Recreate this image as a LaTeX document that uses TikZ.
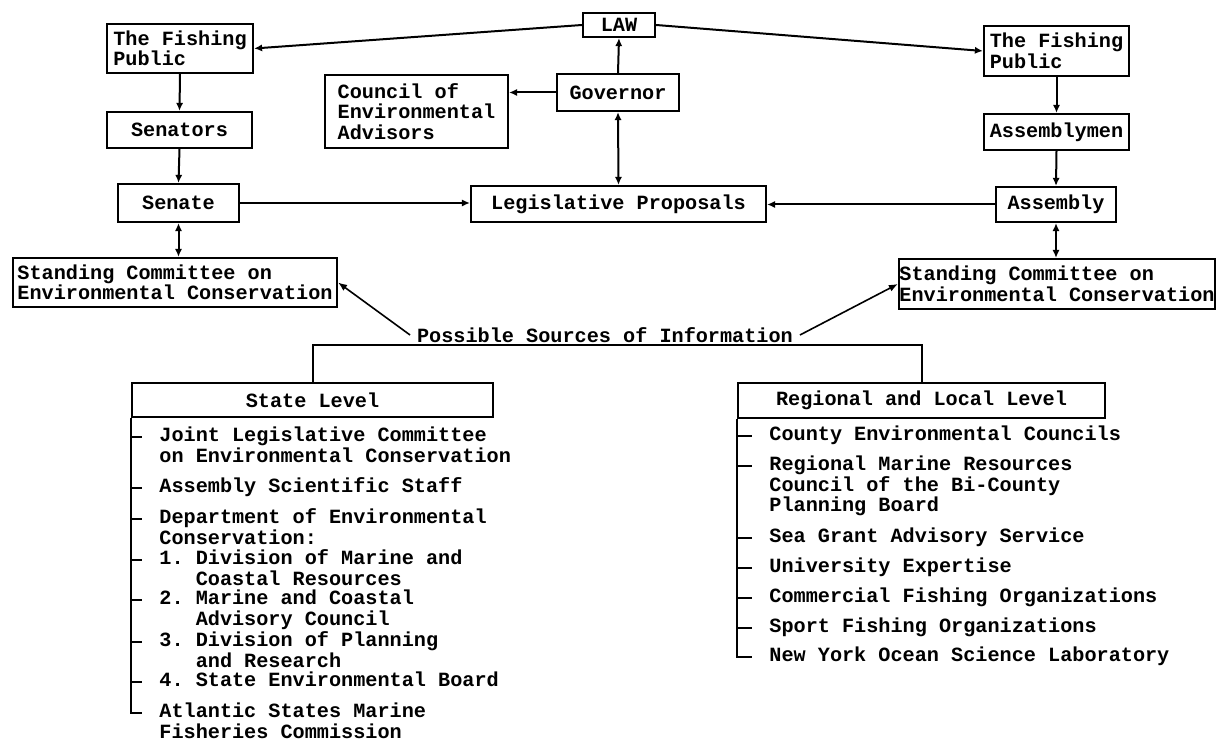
\documentclass[tikz,border=0pt]{standalone}
\usepackage{fontspec}
\setmonofont{Liberation Mono}[WordSpace={1,0,0}]
\usepackage{tikz}
\usetikzlibrary{positioning,arrows.meta,calc}

\begin{document}
\begin{tikzpicture}[x=0.5pt, y=-0.5pt,
  font=\ttfamily\bfseries\fontsize{10.1pt}{10.25pt}\selectfont,
  box/.style={draw, line width=1.1pt, inner sep=0pt, align=left},
  item/.style={anchor=base west, align=left, inner sep=0pt},
  link/.style={line width=1pt, -{Latex[length=4pt,width=3.6pt]}},
  twoway/.style={line width=1pt, {Latex[length=4pt,width=3.6pt]}-{Latex[length=4pt,width=3.6pt]}},
  srclink/.style={line width=0.8pt, -{Latex[length=4.5pt,width=3.6pt]}}]
\useasboundingbox (0,0) rectangle (1217,742);
% top row
\node[box, minimum width=36pt, minimum height=12pt] (law) at (619,25) {LAW};
\node[box, minimum width=73pt, minimum height=24.5pt] (fishL) at (180,48.5) {The Fishing\\Public};
\node[box, minimum width=72.5pt, minimum height=25pt] (fishR) at (1056.5,51) {The Fishing\\Public};
\node[box, minimum width=91.5pt, minimum height=36.5pt] (council) at (416.5,111.5) {Council of\\Environmental\\Advisors};
\node[box, minimum width=61pt, minimum height=18.5pt] (governor) at (618,92.5) {Governor};
\node[box, minimum width=72.5pt, minimum height=18pt] (senators) at (179.5,130) {Senators};
\node[box, minimum width=72.5pt, minimum height=18pt] (assemblymen) at (1056.5,132) {Assemblymen};
% legislature
\node[box, minimum width=60.5pt, minimum height=19pt] (senate) at (178.5,203) {Senate};
\node[box, minimum width=147.5pt, minimum height=18pt] (proposals) at (618.5,204) {Legislative Proposals};
\node[box, minimum width=60pt, minimum height=17.5pt] (assembly) at (1056,204.5) {Assembly};
\node[box, minimum width=162pt, minimum height=24.5pt] (comL) at (175,282.5) {Standing Committee on\\Environmental Conservation};
\node[box, minimum width=158pt, minimum height=25pt] (comR) at (1057,284) {Standing Committee on\\Environmental Conservation};
% sources
\node (sources) at (605,335) {Possible Sources of Information};
\node[box, minimum width=180.5pt, minimum height=17pt] (state) at (312.5,400) {State Level};
\node[box, minimum width=183.5pt, minimum height=17.5pt] (regional) at (921.5,400.5) {Regional and Local Level};

% connectors
\draw[link] (law.west) -- (fishL.east);
\draw[link] (law.east) -- (fishR.west);
\draw[link] (governor.north) -- (law.south);
\draw[link] (governor.west) -- (governor.west -| council.east);
\draw[twoway] (proposals.north) -- (governor.south);
\draw[link] (fishL.south) -- (senators.north);
\draw[link] (senators.south) -- (senate.north);
\draw[twoway] (senate.south) -- (senate.south |- comL.north);
\draw[link] (senate.east) -- (senate.east -| proposals.west);
\draw[link] (fishR.south) -- (assemblymen.north);
\draw[link] (assemblymen.south) -- (assembly.north);
\draw[twoway] (assembly.south) -- (assembly.south |- comR.north);
\draw[link] (assembly.west) -- (assembly.west -| proposals.east);
\draw[srclink] (sources.west) -- (comL.east);
\draw[srclink] (sources.east) -- (comR.west);
\draw[line width=1pt] (state.north) -- ++(0,-37) -| (regional.north);

% state level list (y of first line / number of lines)
\foreach \txt/\yy/\n [count=\i] in {
  {Joint Legislative Committee\\on Environmental Conservation}/437/2,
  {Assembly Scientific Staff}/488/1,
  {Department of Environmental\\Conservation:}/519/2,
  {1. Division of Marine and\\\phantom{1. }Coastal Resources}/560/2,
  {2. Marine and Coastal\\\phantom{2. }Advisory Council}/600/2,
  {3. Division of Planning\\\phantom{3. }and Research}/642/2,
  {4. State Environmental Board}/682/1,
  {Atlantic States Marine\\Fisheries Commission}/713/2}
{
  \node[item] (st\i) at (159,\yy+5+20.5*\n-20.5) {\txt};
  \draw[line width=1pt] (132,\yy) -- (142,\yy);
}
\draw[line width=1pt] (state.south west) |- (142,713);

% regional and local list
\foreach \txt/\yy/\n [count=\i] in {
  {County Environmental Councils}/436/1,
  {Regional Marine Resources\\Council of the Bi-County\\Planning Board}/466/3,
  {Sea Grant Advisory Service}/538/1,
  {University Expertise}/568/1,
  {Commercial Fishing Organizations}/598/1,
  {Sport Fishing Organizations}/628/1,
  {New York Ocean Science Laboratory}/657/1}
{
  \node[item] (rl\i) at (769,\yy+5+20.5*\n-20.5) {\txt};
  \draw[line width=1pt] (738,\yy) -- (752,\yy);
}
\draw[line width=1pt] (regional.south west) |- (752,657);
\end{tikzpicture}
\end{document}
